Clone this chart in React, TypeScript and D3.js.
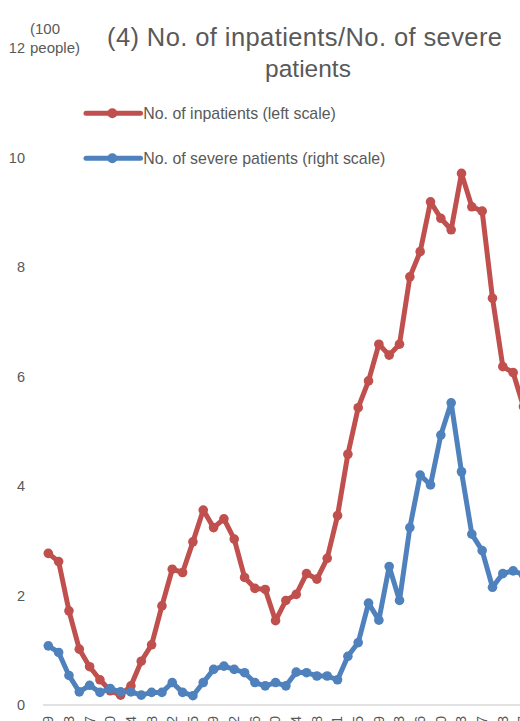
import React from "react";
import * as d3 from "d3";

const dates: string[] = [
  "4/29", "5/6", "5/13", "5/20", "5/27", "6/3", "6/10", "6/17", "6/24", "7/1",
  "7/8", "7/15", "7/22", "7/29", "8/5", "8/12", "8/19", "8/26", "9/2", "9/9",
  "9/16", "9/23", "9/30", "10/7", "10/14", "10/21", "10/28", "11/4", "11/11", "11/18",
  "11/25", "12/2", "12/9", "12/16", "12/23", "12/30", "1/6", "1/13", "1/20", "1/27",
  "2/3", "2/10", "2/17", "2/24", "3/3", "3/10", "3/17",
];

const inpatients: number[] = [
  2.77, 2.62, 1.72, 1.02, 0.70, 0.46, 0.26, 0.18, 0.35, 0.80,
  1.10, 1.81, 2.48, 2.42, 2.98, 3.56, 3.24, 3.40, 3.03, 2.33,
  2.13, 2.11, 1.54, 1.91, 2.02, 2.40, 2.30, 2.68, 3.46, 4.58,
  5.43, 5.92, 6.59, 6.39, 6.59, 7.82, 8.28, 9.19, 8.89, 8.68,
  9.71, 9.10, 9.02, 7.43, 6.18, 6.07, 5.45,
];

const severe: number[] = [
  1.08, 0.96, 0.54, 0.24, 0.36, 0.23, 0.30, 0.24, 0.24, 0.18,
  0.23, 0.23, 0.41, 0.23, 0.17, 0.41, 0.65, 0.71, 0.65, 0.59,
  0.41, 0.35, 0.41, 0.35, 0.60, 0.59, 0.53, 0.53, 0.46, 0.89,
  1.14, 1.86, 1.55, 2.53, 1.91, 3.24, 4.20, 4.02, 4.93, 5.52,
  4.26, 3.12, 2.82, 2.15, 2.40, 2.45, 2.38,
];

const yTicks: number[] = [0, 2, 4, 6, 8, 10, 12];

const titleLines: string[] = ["(4) No. of inpatients/No. of severe", "patients"];
const unitLines: string[] = ["(100", "people)"];
const seriesNames: string[] = [
  "No. of inpatients (left scale)",
  "No. of severe patients (right scale)",
];

const RED = "#c0504d";
const BLUE = "#4f81bd";
const TEXT = "#595959";
const FONT = "'Liberation Sans', Arial, sans-serif";

export default function App() {
  const W = 520;
  const H = 721;
  const x = d3.scalePoint<string>().domain(dates).range([48.3, 48.3 + 46 * 10.33]).padding(0);
  const y = d3.scaleLinear().domain([0, 12]).range([705, 48]);

  const line = d3
    .line<number>()
    .x((_, i) => x(dates[i]) as number)
    .y((d) => y(d));

  const series = [
    { name: seriesNames[0], values: inpatients, color: RED },
    { name: seriesNames[1], values: severe, color: BLUE },
  ];

  return (
    <svg
      width={W}
      height={H}
      style={{ position: "absolute", left: 0, top: 0, background: "#fff" }}
      fontFamily={FONT}
    >
      <rect x={0} y={0} width={W} height={H} fill="#fff" />
      {/* title */}
      <text x={304.5} y={45.5} textAnchor="middle" fontSize={25.5} fill={TEXT}
        textLength={395} lengthAdjust="spacing">
        {titleLines[0]}
      </text>
      <text x={308} y={77} textAnchor="middle" fontSize={24.5} fill={TEXT}>
        {titleLines[1]}
      </text>
      {/* unit label */}
      {unitLines.map((t, i) => (
        <text key={t} x={30} y={34 + i * 18.5} fontSize={15} fill={TEXT}>
          {t}
        </text>
      ))}
      {/* y ticks */}
      {yTicks.map((t) => (
        <text key={t} x={25} y={y(t)} dy="0.35em" textAnchor="end" fontSize={14.5} fill={TEXT}>
          {t}
        </text>
      ))}
      {/* axis line */}
      <line x1={43} x2={W} y1={y(0)} y2={y(0)} stroke="#d9d9d9" strokeWidth={1.5} />
      {/* x labels */}
      {dates.map((d, i) =>
        i % 2 === 0 ? (
          <text
            key={d}
            transform={`translate(${x(d)},${716}) rotate(-90)`}
            dy="0.35em"
            textAnchor="end"
            fontSize={14}
            fill={TEXT}
          >
            {d}
          </text>
        ) : null
      )}
      {/* series */}
      {series.map((s) => (
        <g key={s.name}>
          <path d={line(s.values) || ""} fill="none" stroke={s.color} strokeWidth={5} strokeLinejoin="round" />
          {s.values.map((v, i) => (
            <circle key={i} cx={x(dates[i]) as number} cy={y(v)} r={4.8} fill={s.color} />
          ))}
        </g>
      ))}
      {/* legend */}
      {series.map((s, i) => (
        <g key={"lg" + i} transform={`translate(0,${113.3 + i * 45})`}>
          <line x1={86} x2={140.5} y1={0} y2={0} stroke={s.color} strokeWidth={5} strokeLinecap="round" />
          <circle cx={112.3} cy={0} r={5} fill={s.color} />
          <text x={143.3} y={0} dy="0.35em" fontSize={15.9} fill={TEXT}>
            {s.name}
          </text>
        </g>
      ))}
    </svg>
  );
}
